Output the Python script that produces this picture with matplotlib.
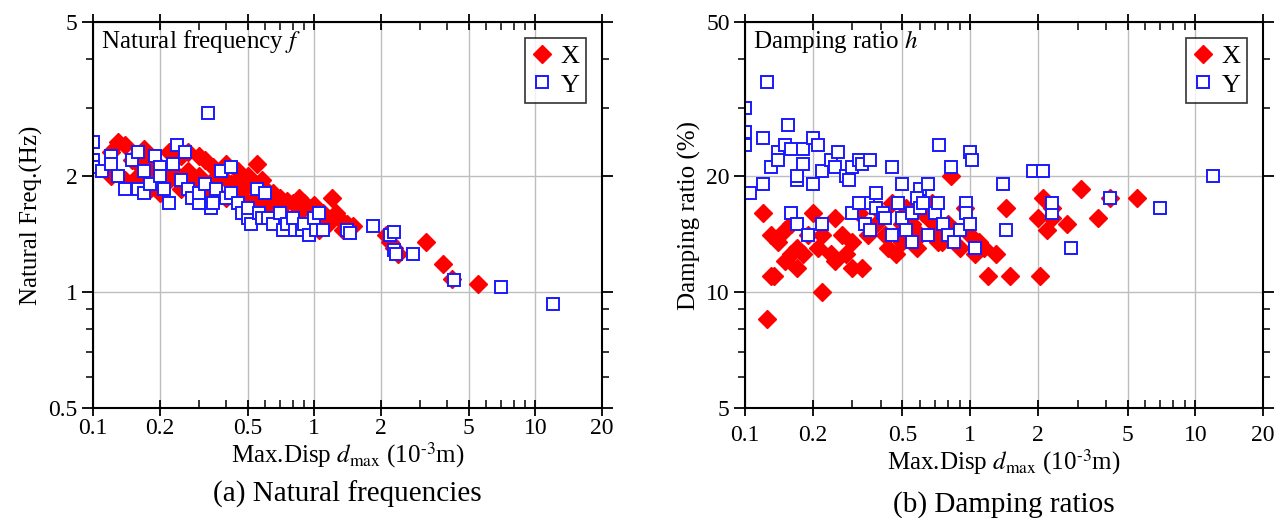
import matplotlib
matplotlib.use("Agg")
import matplotlib.pyplot as plt
from matplotlib.ticker import FixedLocator, NullFormatter, FixedFormatter

plt.rcParams['font.family'] = ['Liberation Serif', 'DejaVu Serif']
plt.rcParams['mathtext.fontset'] = 'stix'

# ---------------- data: natural frequency ----------------
freq_x_disp = [0.13, 0.14, 0.12, 0.15, 0.17, 0.18, 0.2, 0.22, 0.24, 0.25, 0.27, 0.3, 0.32, 0.35, 0.38,
               0.4, 0.45, 0.5, 0.55, 0.58, 0.6, 0.65, 0.7, 0.75, 0.8, 0.85, 0.9, 0.95, 1.0, 1.1,
               1.2, 1.25, 1.3, 1.4, 1.5, 0.12, 0.14, 0.16, 0.18, 0.2, 0.22, 0.25, 0.28, 0.3, 0.33,
               0.36, 0.4, 0.45, 0.5, 0.55, 0.6, 0.65, 0.7, 0.75, 0.8, 0.9, 1.0, 1.05, 1.15, 0.42,
               0.48, 0.52, 0.62, 0.68, 0.35, 0.27, 0.19, 0.16, 0.23, 0.45, 0.85, 1.35,
               2.1, 2.2, 2.3, 2.4, 3.2, 3.8, 4.2, 5.5]
freq_x_val = [2.45, 2.4, 2.3, 2.2, 2.35, 2.2, 2.1, 2.3, 2.35, 2.25, 2.3, 2.25, 2.2, 2.1, 2.0,
              2.15, 2.05, 2.0, 2.15, 1.95, 1.85, 1.8, 1.75, 1.72, 1.7, 1.75, 1.7, 1.65, 1.68, 1.6,
              1.75, 1.6, 1.55, 1.5, 1.48, 2.0, 1.95, 2.0, 1.85, 1.8, 1.95, 1.85, 1.9, 2.0, 1.85,
              1.8, 1.75, 1.8, 1.7, 1.75, 1.7, 1.65, 1.6, 1.55, 1.55, 1.5, 1.5, 1.45, 1.5, 1.9,
              1.85, 1.9, 1.75, 1.7, 1.95, 2.05, 2.05, 2.15, 2.05, 1.95, 1.6, 1.45,
              1.4, 1.35, 1.3, 1.25, 1.35, 1.18, 1.08, 1.05]

freq_y_disp = [0.1, 0.1, 0.1, 0.11, 0.12, 0.12, 0.13, 0.14, 0.15, 0.16, 0.16, 0.17, 0.17, 0.18, 0.19,
               0.2, 0.2, 0.21, 0.22, 0.23, 0.24, 0.25, 0.26, 0.27, 0.28, 0.3, 0.3, 0.32, 0.33, 0.34,
               0.35, 0.36, 0.38, 0.4, 0.42, 0.42, 0.45, 0.47, 0.5, 0.5, 0.52, 0.55, 0.56, 0.58, 0.6,
               0.62, 0.65, 0.7, 0.72, 0.75, 0.8, 0.82, 0.88, 0.9, 0.95, 1.0, 1.02, 1.05, 1.1, 1.4,
               1.45, 1.85, 2.2, 2.3, 2.3, 2.35, 2.8, 4.3, 7.0, 12.0]
freq_y_val = [2.45, 2.2, 2.1, 2.05, 2.25, 2.15, 2.0, 1.85, 2.2, 2.3, 1.85, 1.8, 2.05, 1.9, 2.25,
              2.1, 2.0, 1.85, 1.7, 2.15, 2.4, 1.95, 2.3, 1.85, 1.75, 1.7, 1.8, 1.9, 2.9, 1.65,
              1.7, 1.85, 2.05, 1.75, 1.8, 2.1, 1.7, 1.6, 1.55, 1.65, 1.5, 1.85, 1.6, 1.55, 1.8,
              1.55, 1.5, 1.6, 1.45, 1.5, 1.55, 1.45, 1.45, 1.5, 1.4, 1.55, 1.45, 1.6, 1.45, 1.45,
              1.42, 1.48, 1.4, 1.43, 1.28, 1.25, 1.25, 1.07, 1.03, 0.93]

# ---------------- data: damping ratio ----------------
damp_x_disp = [0.12, 0.125, 0.13, 0.13, 0.135, 0.14, 0.15, 0.15, 0.16, 0.16, 0.17, 0.17, 0.18, 0.19, 0.2,
               0.21, 0.22, 0.22, 0.24, 0.25, 0.25, 0.27, 0.28, 0.3, 0.3, 0.32, 0.33, 0.35, 0.38, 0.4,
               0.42, 0.43, 0.45, 0.47, 0.5, 0.5, 0.52, 0.55, 0.58, 0.6, 0.62, 0.65, 0.68, 0.7, 0.72,
               0.75, 0.8, 0.82, 0.85, 0.9, 0.95, 1.0, 1.05, 1.1, 1.15, 1.2, 1.3, 1.45, 1.5, 2.0,
               2.05, 2.1, 2.2, 2.3, 2.3, 2.7, 3.1, 3.7, 4.2, 5.5]
damp_x_val = [16, 8.5, 11, 14, 11, 13.5, 12, 14.5, 12.5, 15, 13, 11.5, 12.5, 14, 16,
              13, 10, 14, 12.5, 15.5, 12, 14, 12.5, 11.5, 13.5, 16, 11.5, 14, 15, 16,
              14, 13, 17, 12.5, 15, 13.5, 16.5, 15, 13, 14, 16, 15.5, 17, 14.5, 13.5,
              13.5, 15, 20, 14.5, 13, 16.5, 14, 12.5, 13.5, 13, 11, 12.5, 16.5, 11, 15.5,
              11, 17.5, 14.5, 15.5, 16.5, 15, 18.5, 15.5, 17.5, 17.5]

damp_y_disp = [0.1, 0.1, 0.1, 0.105, 0.12, 0.125, 0.13, 0.14, 0.14, 0.15, 0.155, 0.16, 0.17, 0.17, 0.18,
               0.18, 0.2, 0.2, 0.21, 0.22, 0.24, 0.25, 0.26, 0.28, 0.29, 0.3, 0.32, 0.33, 0.35, 0.36,
               0.38, 0.45, 0.5, 0.6, 0.65, 0.73, 0.82, 0.96, 1.0, 1.02, 1.4, 1.9, 2.1, 4.2, 7.0,
               12.0, 0.12, 0.16, 0.17, 0.19, 0.22, 0.3, 0.32, 0.34, 0.36, 0.38, 0.41, 0.45, 0.48, 0.5,
               0.52, 0.55, 0.58, 0.6, 0.62, 0.7, 0.72, 0.76, 0.8, 0.85, 0.9, 0.96, 1.0, 1.05, 1.45,
               2.3, 2.3, 2.8, 0.42, 0.55, 0.65]
damp_y_val = [30, 26, 24, 18, 25, 35, 21, 23, 22, 24, 27, 23.5, 19.5, 20, 21.5,
              23.5, 19, 25, 24, 20.5, 22, 21, 23, 20, 19.5, 21, 22, 21.5, 17, 22,
              18, 21, 19, 18.5, 19, 24, 21, 17, 23, 22, 19, 20.5, 20.5, 17.5, 16.5,
              20, 19, 16, 15, 14, 15, 16, 17, 15, 14.5, 16.5, 16, 14, 17, 15.5,
              14.5, 16, 17.5, 16.5, 17, 16, 17, 15, 14, 13.5, 14.5, 16, 15, 13, 14.5,
              16, 17, 13, 15.5, 13.5, 14]

# ---------------- figure ----------------
fig = plt.figure(figsize=(12.87, 5.18), dpi=100)
axL = fig.add_axes([0.0723, 0.2124, 0.3955, 0.745])
axR = fig.add_axes([0.5789, 0.2124, 0.4025, 0.745])

FS = 17
xmaj = [0.1, 0.2, 0.5, 1, 2, 5, 10, 20]
xmin = [0.3, 0.4, 0.6, 0.7, 0.8, 0.9, 3, 4, 6, 7, 8, 9]
xlabels = ['0.1', '0.2', '0.5', '1', '2', '5', '10', '20']


def style(ax, ymaj, ylab, ymin, ylim, xpad):
    ax.set_xscale('log')
    ax.set_yscale('log')
    ax.set_xlim(0.1, 20)
    ax.set_ylim(*ylim)
    ax.xaxis.set_major_locator(FixedLocator(xmaj))
    ax.xaxis.set_major_formatter(FixedFormatter(xlabels))
    ax.xaxis.set_minor_locator(FixedLocator(xmin))
    ax.xaxis.set_minor_formatter(NullFormatter())
    ax.yaxis.set_major_locator(FixedLocator(ymaj))
    ax.yaxis.set_major_formatter(FixedFormatter(ylab))
    ax.yaxis.set_minor_locator(FixedLocator(ymin))
    ax.yaxis.set_minor_formatter(NullFormatter())
    ax.tick_params(axis='x', which='major', direction='inout', length=12, width=1.3,
                   top=True, bottom=True, labelsize=FS, pad=xpad)
    ax.tick_params(axis='x', which='minor', direction='in', length=6, width=1.1,
                   top=True, bottom=True)
    ax.tick_params(axis='y', which='major', direction='out', length=8, width=1.3,
                   left=True, right=True, labelsize=FS, pad=3)
    ax.tick_params(axis='y', which='minor', direction='out', length=5, width=1.1,
                   left=True, right=True)
    for s in ax.spines.values():
        s.set_linewidth(1.5)
    ax.grid(True, which='major', color='#bdbdbd', lw=1.0)
    ax.set_axisbelow(True)


style(axL, [0.5, 1, 2, 5], ['0.5', '1', '2', '5'], [0.6, 0.7, 0.8, 0.9, 3, 4], (0.5, 5), 1)
style(axR, [5, 10, 20, 50], ['5', '10', '20', '50'], [6, 7, 8, 9, 30, 40], (5, 50), 6)

mk = dict(ls='none')
for ax, xd, xv, yd, yv in [(axL, freq_x_disp, freq_x_val, freq_y_disp, freq_y_val),
                           (axR, damp_x_disp, damp_x_val, damp_y_disp, damp_y_val)]:
    ax.plot(xd, xv, marker='D', ms=8.8, color='#ff0000', mec='#ff0000', label='X', **mk)
    ax.plot(yd, yv, marker='s', ms=9, mfc='white', mec='#1a1aff', mew=1.4, label='Y', **mk)
    leg = ax.legend(loc='upper right', fontsize=19, frameon=True, fancybox=False,
                    edgecolor='black', handlelength=0.8, handletextpad=0.3,
                    borderpad=0.25, labelspacing=0.2, borderaxespad=0.6)
    leg.get_frame().set_linewidth(1.2)

axL.text(0.015, 0.985, r'Natural frequency $f$', transform=axL.transAxes,
         ha='left', va='top', fontsize=18)
axR.text(0.015, 0.985, r'Damping ratio $h$', transform=axR.transAxes,
         ha='left', va='top', fontsize=18)

xl = r'Max.Disp $d_{\rm max}$ (10$^{\text{-}3}$m)'
axL.set_xlabel(xl, fontsize=18, labelpad=1)
axR.set_xlabel(xl, fontsize=18, labelpad=1)
axL.set_ylabel('Natural Freq.(Hz)', fontsize=18, labelpad=4)
axR.set_ylabel('Damping ratio (%)', fontsize=18, labelpad=4)

fig.text(0.2701, 0.02, '(a) Natural frequencies', ha='center', va='bottom', fontsize=21)
fig.text(0.7801, 0.0, '(b) Damping ratios', ha='center', va='bottom', fontsize=21)

fig.savefig('out.png', dpi=100)
